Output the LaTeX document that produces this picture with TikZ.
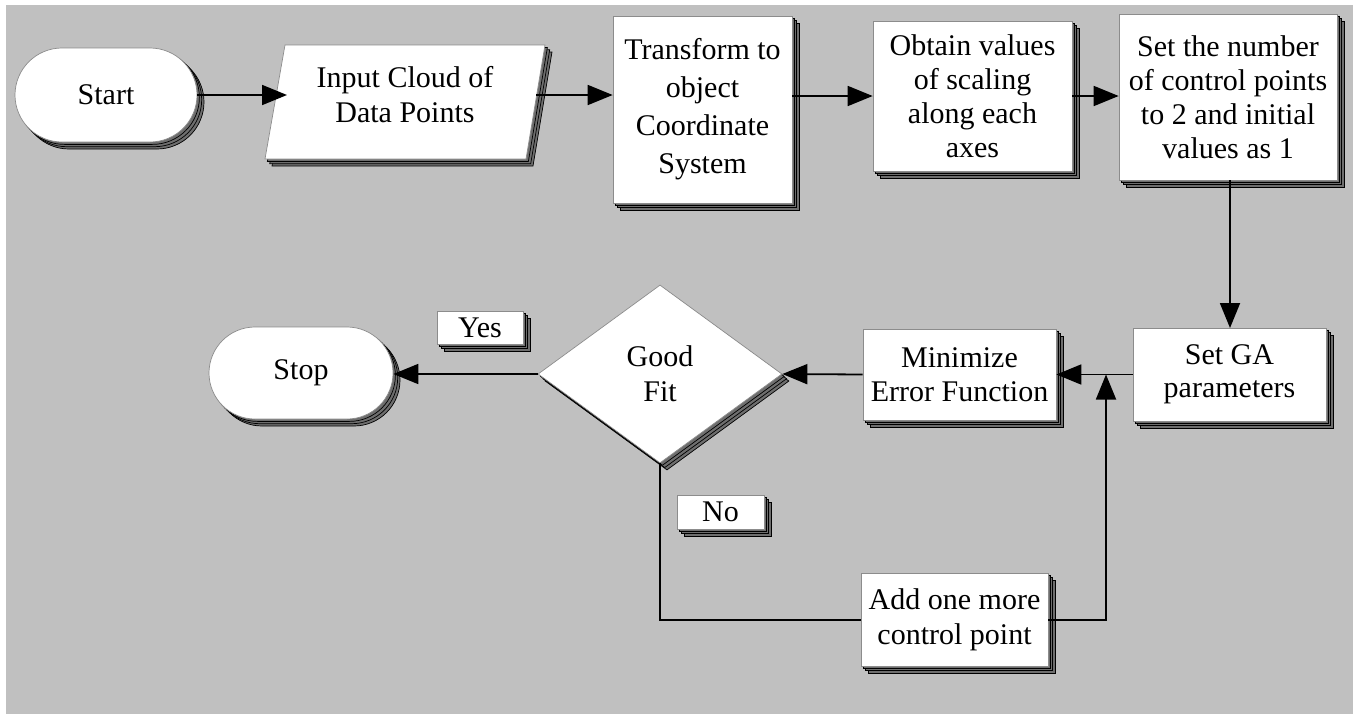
\documentclass[tikz,border=0pt]{standalone}
\usepackage{fontspec}
\setmainfont{Liberation Serif}
\usetikzlibrary{shapes.geometric,shapes.misc,shadows,arrows.meta}
\definecolor{bggray}{HTML}{C0C0C0}
\definecolor{edgegray}{HTML}{8C8C8C}
\definecolor{shgray}{HTML}{6E6E6E}
\tikzset{
  stk/.style={fill=white, draw=edgegray, line width=0.7pt,
    copy shadow={shadow xshift=7pt, shadow yshift=-7pt, fill=shgray, draw=black, line width=0.7pt},
    copy shadow={shadow xshift=4.7pt, shadow yshift=-4.7pt, fill=shgray, draw=black, line width=0.7pt},
    copy shadow={shadow xshift=2.4pt, shadow yshift=-2.4pt, fill=shgray, draw=black, line width=0.7pt}},
  txt/.style={align=center, font=\fontsize{30}{35}\selectfont, inner sep=0pt},
  box/.style={stk, txt, rectangle},
  term/.style={stk, txt, rounded rectangle},
  decision/.style={stk, txt, diamond, aspect=1.37},
  tag/.style={stk, txt, rectangle},
  flow/.style={line width=1.8pt, -{Triangle[length=25pt,width=20pt]}},
  plain/.style={line width=1.8pt},
}
\begin{document}
\begin{tikzpicture}[x=1pt,y=-1pt]
\useasboundingbox (0,0) rectangle (1360,715);
\fill[white] (0,0) rectangle (1360,715);
\fill[bggray] (6,5) rectangle (1353,714);

% nodes
\node[term, minimum width=182pt, minimum height=94pt] (start) at (106,95) {Start};
\path[stk] (285,45) -- (545,45) -- (526,159) -- (265,159) -- cycle;
\node[txt] (input) at (405,94.5) {Input Cloud of\\Data Points};
\coordinate (inL) at (287,95);
\coordinate (inR) at (536,95);
\node[box, minimum width=179pt, minimum height=187pt, font=\fontsize{30}{38}\selectfont] (transform) at (702.5,109.5) {Transform to\\object\\Coordinate\\System};
\node[box, minimum width=199pt, minimum height=150pt, font=\fontsize{30}{34}\selectfont] (obtain) at (972.5,96) {Obtain values\\of scaling\\along each\\axes};
\node[box, minimum width=218pt, minimum height=166pt, font=\fontsize{30}{34}\selectfont] (setn) at (1228,97) {Set the number\\of control points\\to 2 and initial\\values as 1};
\node[box, minimum width=193pt, minimum height=93pt, font=\fontsize{30}{33}\selectfont] (setga) at (1229.5,374.5) {Set GA\\parameters};
\node[box, minimum width=193pt, minimum height=91pt, font=\fontsize{30}{34}\selectfont] (minim) at (959.5,374.5) {Minimize\\Error Function};
\node[decision, minimum width=244pt, minimum height=178pt] (fit) at (660,374) {Good\\Fit};
\node[term, minimum width=184pt, minimum height=92pt] (stop) at (301,373) {Stop};
\node[tag, minimum width=86pt, minimum height=33pt] (yes) at (480,327.5) {Yes};
\node[tag, minimum width=87pt, minimum height=34pt] (no) at (720.5,512) {No};
\coordinate (junc) at (1106,374.5);

% loop line behind the add box
\draw[plain] (fit.south) |- (960,620);
\node[box, minimum width=187pt, minimum height=93pt] (addone) at (954.5,619.5) {Add one more\\control point};
\draw[flow] (addone.east |- 0,620) -| (junc);

% connectors
\draw[flow] (start.east) -- (inL);
\draw[flow] (inR) -- (inR -| transform.west);
\draw[flow] (transform.east |- obtain.west) -- (obtain.west);
\draw[flow] (obtain.east) -- (obtain.east -| setn.west);
\draw[flow] (setn.south -| 1230,0) -- (1230,328);
\draw[flow] (setga.west) -- (minim.east);
\draw[flow] (minim.west) -- (fit.east);
\draw[flow] (fit.west) -- (stop.east |- fit.west);
\end{tikzpicture}
\end{document}
